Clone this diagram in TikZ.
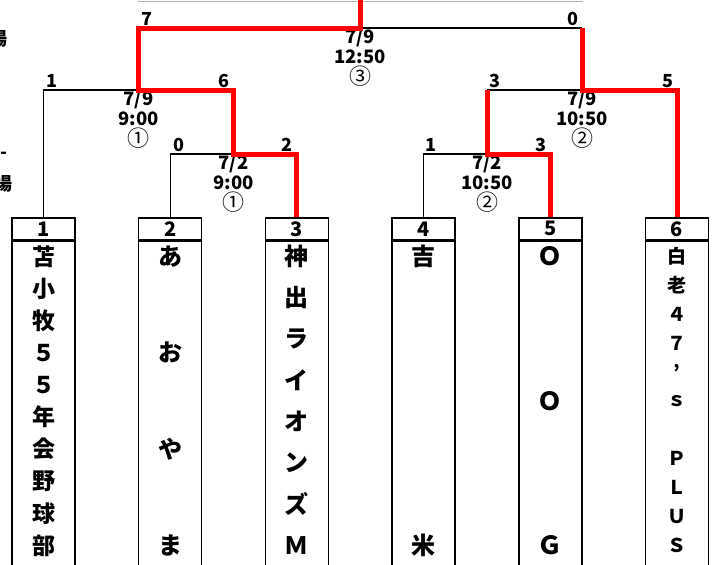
\documentclass[tikz,border=0pt]{standalone}
\usepackage{fontspec}
\setmainfont{Noto Sans CJK JP}
\usetikzlibrary{calc}

\newcommand\teamtext[4]{%
  \foreach \c [count=\i] in {#4}
    \node (n#1-\i) [font=\fontsize{#3}{#3}\selectfont\bfseries]
      at ($(b#1.north)+(0,{16+(\i-1)*289/(#2-1)})$) {\c};
}
\newcommand\court[1]{{\fontsize{22}{20.5}\mdseries\selectfont #1}}

\begin{document}
\begin{tikzpicture}[x=1pt, y=-1pt, line join=miter,
    every node/.style={inner sep=0pt},
    line/.style={line width=1.4pt},
    win/.style={line width=5pt, red},
    box/.style={draw, line width=1.5pt, minimum width=63pt},
    score/.style={anchor=base, font=\fontsize{18}{18}\selectfont\bfseries},
    date/.style={anchor=north, align=center, font=\fontsize{18.5}{20.5}\selectfont\bfseries},
    edge/.style={anchor=east, font=\fontsize{18}{18}\selectfont\bfseries}]
  \useasboundingbox (0,0) rectangle (718,565);
  \draw[gray!60, line width=1pt] (138,1) -- (583,1);

  \node (e1) [edge] at (8,39) {場};
  \node (e2) [edge] at (8,155) {-};
  \node (e3) [edge] at (13,184) {場};

  \foreach \n/\x in {1/43.5, 2/170.2, 3/296.9, 4/423.6, 5/550.3, 6/677} {
    \node (t\n) [box, minimum height=22pt, anchor=north, font=\fontsize{20}{20}\selectfont\bfseries] at (\x,217) {\n};
    \node (b\n) [box, minimum height=325pt, anchor=north] at (t\n.south) {};
  }

  \teamtext{1}{10}{23}{苫,小,牧,５,５,年,会,野,球,部}
  \teamtext{2}{4}{24}{あ,お,や,ま}
  \teamtext{3}{8}{24}{神,出,ラ,イ,オ,ン,ズ,Ｍ}
  \teamtext{4}{2}{24}{吉,米}
  \teamtext{5}{3}{25}{Ｏ,Ｏ,Ｇ}
  \teamtext{6}{11}{19}{白,老,４,７,’,ｓ,{},Ｐ,Ｌ,Ｕ,Ｓ}

  \coordinate (m1) at (233.5,154);
  \coordinate (m2) at (138.5,90);
  \coordinate (m3) at (487,154);
  \coordinate (m4) at (582,90);
  \coordinate (f) at (360,28);

  \node (d1) [date] at (m1) {7/2\\9:00\\\court{①}};
  \node (d2) [date] at (m2) {7/9\\9:00\\\court{①}};
  \node (d3) [date] at (m3) {7/2\\10:50\\\court{②}};
  \node (d4) [date] at (m4) {7/9\\10:50\\\court{②}};
  \node (df) [date] at (f) {7/9\\12:50\\\court{③}};

  \draw[line] (t1.north) |- (m2);
  \draw[line] (t2.north) |- (m1);
  \draw[line] (t4.north) |- (m3);
  \draw[line] (m3 |- m4) -- (m4);
  \draw[line] (f) -- (m4 |- f);
  \draw[win] (t3.north) |- (m1) |- (m2) |- (f) -- (f |- 0,0);
  \draw[win] (t5.north) |- (m3) -- (m3 |- m4);
  \draw[win] (t6.north) |- (m4) -- (m4 |- f);

  \foreach \nm/\x/\y/\s in {fl/147/25/7, fr/573/25/0, m2l/52/87/1, m2r/224/87/6,
      m1l/179/151/0, m1r/287/151/2, m4l/495/87/3, m4r/668/87/5, m3l/431/151/1, m3r/541/151/3}
    \node (s\nm) [score] at (\x,\y) {\s};
\end{tikzpicture}
\end{document}
